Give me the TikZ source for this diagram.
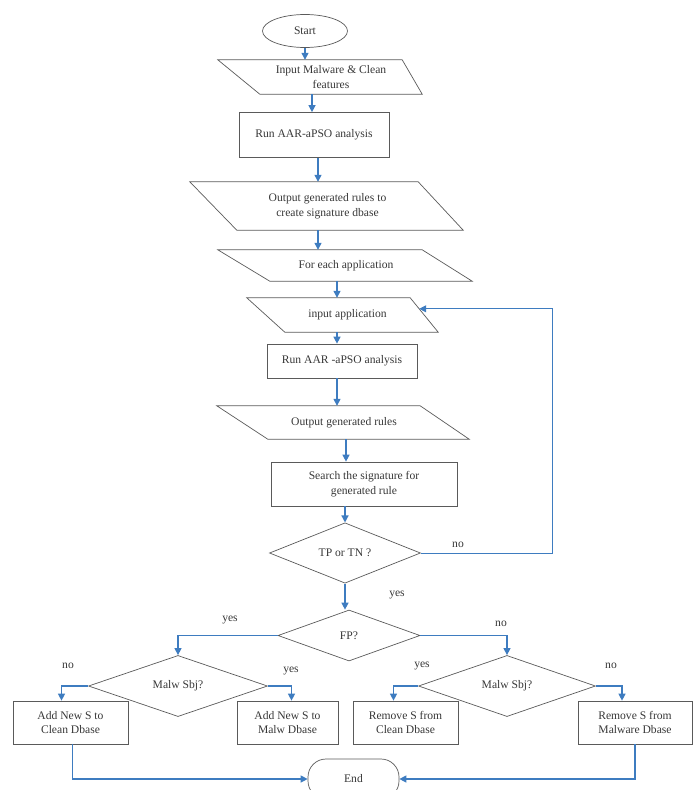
\documentclass[tikz,border=0pt]{standalone}
\usepackage{fontspec}
\setmainfont{Liberation Serif}
\usetikzlibrary{positioning, arrows.meta, shapes.geometric}
\definecolor{flowblue}{RGB}{62,124,192}
\definecolor{edgegray}{RGB}{90,90,90}
\definecolor{textgray}{RGB}{55,55,55}

\begin{document}
\begin{tikzpicture}[x=1pt, y=-1pt, >={Triangle[length=7pt, width=7pt]},
    every node/.style={font=\fontsize{11.6}{14.5}\selectfont, text=textgray},
    box/.style={draw=edgegray, line width=0.7pt, align=center},
    io/.style 2 args={align=center, append after command={\pgfextra{
        \draw[edgegray, line width=0.7pt] ([xshift=-#1pt]\tikzlastnode.north west)
            -- (\tikzlastnode.north east) -- ([xshift=#2pt]\tikzlastnode.south east)
            -- (\tikzlastnode.south west) -- cycle;}}},
    test/.style={draw=edgegray, line width=0.7pt, diamond, inner sep=0pt},
    term/.style={draw=edgegray, line width=0.7pt},
    flow/.style={->, draw=flowblue, line width=1.3pt}]
    \useasboundingbox (0,0) rectangle (700,790);

    \node[term, ellipse, minimum width=85pt, minimum height=33pt] (start) at (305,31) {Start};
    \node[io={42}{20}, minimum width=142pt, minimum height=34pt] (inp) at (331,77) {Input Malware \& Clean\\features};
    \node[box, minimum width=150pt, minimum height=45pt] (run1) at (314,135) {Run AAR-aPSO analysis};
    \node[io={47}{45}, minimum width=181pt, minimum height=48pt] (out1) at (327.5,206) {Output generated rules to\\create signature dbase};
    \node[io={52}{50}, minimum width=152pt, minimum height=31pt] (each) at (346,265.5) {For each application};
    \node[io={38}{28}, minimum width=125pt, minimum height=34pt] (app) at (347.5,315) {input application};
    \node[box, minimum width=150pt, minimum height=34pt] (run2) at (342,361) {Run AAR -aPSO analysis};
    \node[io={51}{49}, minimum width=152pt, minimum height=33pt] (out2) at (344,422.5) {Output generated rules};
    \node[box, minimum width=186pt, minimum height=44pt] (srch) at (364,484) {Search the signature for\\generated rule};
    \node[test, minimum width=151pt, minimum height=51pt] (tptn) at (345,553) {TP or TN ?};
    \node[test, minimum width=142pt, minimum height=51pt] (fp) at (349,635.5) {FP?};
    \node[test, minimum width=179pt, minimum height=52pt] (ml) at (178,686) {Malw Sbj?};
    \node[test, minimum width=177pt, minimum height=51pt] (mr) at (507,686) {Malw Sbj?};
    \node[box, minimum width=115pt, minimum height=43pt] (cl) at (70.5,722.5) {Add New S to\\Clean Dbase};
    \node[box, minimum width=101pt, minimum height=43pt] (ma) at (287.5,722.5) {Add New S to\\Malw Dbase};
    \node[box, minimum width=105pt, minimum height=43pt] (rc) at (405.5,722.5) {Remove S from\\Clean Dbase};
    \node[box, minimum width=114pt, minimum height=43pt] (rm) at (635,722.5) {Remove S from\\Malware Dbase};
    \node[term, rounded corners=18pt, minimum width=91pt, minimum height=40pt] (endn) at (353.5,779) {End};

    \node (nloop) at (458,545) {no};
    \node (yfp) at (397,595) {yes};
    \node (yml) at (230,620) {yes};
    \node (nmr) at (501,624) {no};
    \node (ncl) at (68,666) {no};
    \node (yma) at (291,671) {yes};
    \node (yrc) at (422,666) {yes};
    \node (nrm) at (611,666) {no};

    \draw[flow] (start.south) -- (start.south |- inp.north);
    \draw[flow] ([xshift=-2pt]run1.north |- inp.south) -- ([xshift=-2pt]run1.north);
    \draw[flow] ([xshift=4pt]run1.south) -- ([xshift=4pt]run1.south |- out1.north);
    \draw[flow] ([xshift=-9.5pt]out1.south) -- ([xshift=-9.5pt]out1.south |- each.north);
    \draw[flow] ([xshift=-9pt]each.south) -- ([xshift=-9pt]each.south |- app.north);
    \draw[flow] ([xshift=-5pt]run2.north |- app.south) -- ([xshift=-5pt]run2.north);
    \draw[flow] ([xshift=-5pt]run2.south) -- ([xshift=-5pt]run2.south |- out2.north);
    \draw[flow] ([xshift=2pt]out2.south) -- ([xshift=2pt]out2.south |- srch.north);
    \draw[flow] (tptn.north |- srch.south) -- (tptn.north);
    \draw[flow] (tptn.south) -- (tptn.south |- fp.north);
    \draw[flow, line width=1pt] (tptn.east) -- ++(132,0) |- ([xshift=9pt, yshift=-11pt]app.north east);
    \draw[flow] (fp.west) -| (ml.north);
    \draw[flow] (fp.east) -| (mr.north);
    \draw[flow] (ml.west) -| ([xshift=-9pt]cl.north);
    \draw[flow] (ml.east) -| ([xshift=4pt]ma.north);
    \draw[flow] (mr.west) -| ([xshift=-12pt]rc.north);
    \draw[flow] (mr.east) -| ([xshift=-13pt]rm.north);
    \draw[flow] ([xshift=2pt]cl.south) |- (endn.west);
    \draw[flow] (rm.south) |- (endn.east);
\end{tikzpicture}
\end{document}
